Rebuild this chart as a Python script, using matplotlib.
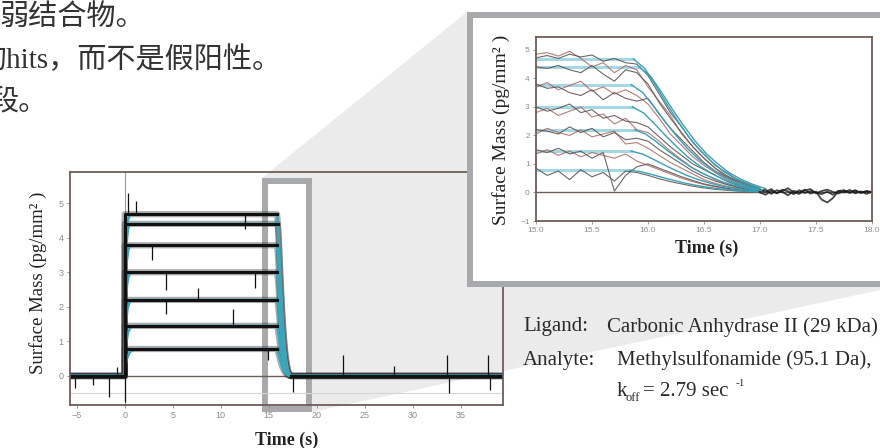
import matplotlib.pyplot as plt
from matplotlib.patches import Polygon, Rectangle
import numpy as np

# ---- data ----
# plateau level of each of the seven traces (pg/mm^2) and when dissociation starts (s)
levels = [4.68, 4.40, 3.78, 3.00, 2.20, 1.45, 0.78]
t_off = [15.87, 15.92, 15.85, 15.86, 15.88, 15.85, 15.84]

# shape of the fitted association / dissociation (fraction of plateau)
rise_dt = [0.0, 0.05, 0.1, 0.2, 0.35, 0.6, 1.0]
rise_frac = [0.0, 0.45, 0.68, 0.88, 0.97, 1.0, 1.0]
rise_scale = [1.0, 1.0, 1.1, 1.2, 1.4, 1.8, 2.6]
decay_dt = [0.0, 0.1, 0.2, 0.3, 0.4, 0.5, 0.6, 0.7, 0.8, 0.9, 1.0, 1.13, 1.4]
decay_frac = [1.0, 0.93, 0.80, 0.66, 0.53, 0.41, 0.31, 0.23, 0.16, 0.11, 0.07, 0.03, 0.0]

# spikes in the full sensorgram: time, from, to
spike_t = [-5.2, -3.3, -1.6, -0.8, 0.0, 0.3, 1.2, 2.8, 4.3, 4.3, 7.6, 11.3,
           12.5, 13.6, 14.9, 17.5, 22.7, 28.0, 33.6, 33.8, 37.8, 38.0]
spike_from = [0, 0, 0, 0, 0, 4.68, 4.68, 3.78, 3.0, 2.2, 2.2, 1.45,
              4.68, 3.0, 0.78, 0, 0, 0, 0, 0, 0, 0]
spike_to = [-0.35, -0.25, -0.6, 0.25, -0.75, 5.3, 5.05, 3.35, 2.5, 1.8, 2.55, 1.95,
            4.25, 2.55, 0.45, -0.45, 0.6, 0.3, 0.6, -0.5, 0.6, -0.4]

main_xticks = [-5, 0, 5, 10, 15, 20, 25, 30, 35]
main_yticks = [0, 1, 2, 3, 4, 5]

# zoomed traces, 15.0 .. 17.0 s every 0.1 s
inset_t = np.round(np.arange(15.0, 17.001, 0.1), 2)
traces_dark = [
    [4.72, 4.80, 4.70, 4.85, 4.75, 4.82, 4.60, 4.70, 4.55, 4.50, 4.10, 3.45, 2.80, 2.30, 1.75, 1.35, 0.95, 0.70, 0.45, 0.30, 0.15],
    [4.40, 4.35, 4.45, 4.30, 4.20, 4.45, 4.15, 3.90, 4.30, 4.20, 3.80, 3.15, 2.60, 2.10, 1.60, 1.20, 0.85, 0.60, 0.40, 0.25, 0.12],
    [3.80, 3.65, 3.70, 3.50, 3.40, 3.60, 3.25, 3.50, 3.30, 3.20, 3.30, 2.75, 2.25, 1.85, 1.45, 1.05, 0.75, 0.55, 0.35, 0.20, 0.08],
    [3.00, 2.85, 2.95, 3.10, 2.80, 2.90, 2.60, 2.70, 2.50, 2.45, 2.30, 1.95, 1.60, 1.30, 1.00, 0.80, 0.60, 0.40, 0.25, 0.15, 0.05],
    [2.20, 2.15, 2.05, 2.30, 2.10, 2.25, 1.95, 2.10, 1.85, 1.90, 1.80, 1.50, 1.25, 1.00, 0.75, 0.55, 0.40, 0.28, 0.18, 0.10, 0.03],
    [1.50, 1.40, 1.55, 1.35, 1.45, 1.20, 1.40, 0.05, 0.60, 0.90, 1.00, 0.85, 0.70, 0.55, 0.42, 0.30, 0.22, 0.15, 0.10, 0.05, 0.02],
    [0.85, 0.60, 0.75, 0.45, 0.80, 0.55, 0.70, 0.40, 0.75, 0.70, 0.60, 0.48, 0.38, 0.30, 0.22, 0.16, 0.11, 0.08, 0.05, 0.03, 0.01],
]
traces_red = [
    [4.85, 4.90, 4.78, 4.95, 4.70, 4.40, 4.55, 4.20, 4.45, 4.30, 3.70, 3.20, 2.70, 2.05, 1.60, 1.20, 0.85, 0.55, 0.40, 0.25, 0.10],
    [3.70, 3.85, 3.60, 3.75, 3.90, 3.55, 3.70, 3.45, 3.60, 3.40, 3.10, 2.60, 2.05, 1.65, 1.25, 0.95, 0.70, 0.45, 0.30, 0.15, 0.05],
    [2.80, 2.95, 2.70, 2.85, 3.00, 2.65, 2.75, 2.40, 2.60, 2.20, 2.10, 1.80, 1.45, 1.15, 0.85, 0.65, 0.45, 0.30, 0.20, 0.10, 0.05],
    [2.05, 2.25, 2.10, 2.00, 2.20, 1.95, 2.05, 2.15, 1.70, 1.75, 1.55, 1.30, 1.05, 0.85, 0.65, 0.45, 0.32, 0.22, 0.15, 0.08, 0.02],
    [1.35, 1.50, 1.30, 1.45, 1.25, 1.40, 1.30, 1.20, 1.35, 1.10, 0.95, 0.80, 0.65, 0.50, 0.38, 0.28, 0.20, 0.13, 0.08, 0.04, 0.02],
]
# baseline after dissociation, 17.0 .. 18.0 s every 0.05 s
tail_t = np.round(np.arange(17.0, 18.001, 0.05), 2)
tails = [
    [0.05, 0.10, -0.05, 0.08, 0.02, -0.10, 0.06, 0.00, 0.10, -0.04, 0.03, -0.25, -0.35, -0.20, 0.05, 0.08, -0.02, 0.06, 0.00, 0.04, 0.02],
    [0.00, -0.08, 0.06, -0.03, 0.10, 0.04, -0.06, 0.08, -0.02, 0.05, 0.00, -0.06, 0.03, -0.08, 0.06, 0.00, 0.09, -0.03, 0.04, -0.05, 0.03],
    [0.08, 0.02, 0.12, -0.02, 0.05, 0.15, 0.00, -0.05, 0.07, 0.12, -0.03, 0.05, 0.10, 0.02, -0.04, 0.06, 0.01, 0.08, -0.02, 0.05, 0.00],
]
inset_xticks = [15.0, 15.5, 16.0, 16.5, 17.0, 17.5, 18.0]
inset_yticks = [-1, 0, 1, 2, 3, 4, 5]

SERIF = 'Liberation Serif'
FRAME = '#6e5c57'
GREY = '#a7a9ac'
TICKC = '#8c8c8c'
INK = '#2b2b2b'


def px_rect(l, t, r, b):
    return [l / 880, 1 - b / 448, (r - l) / 880, (b - t) / 448]


def pixel_axes(z):
    a = fig.add_axes([0, 0, 1, 1], zorder=z)
    a.set_xlim(0, 880)
    a.set_ylim(448, 0)
    a.axis('off')
    a.patch.set_alpha(0)
    return a


def fit_curve(i, with_rise=True):
    L = levels[i]
    t, v = [], []
    if with_rise:
        t += [d * rise_scale[i] for d in rise_dt]
        v += [L * f for f in rise_frac]
    t += [t_off[i] + d for d in decay_dt]
    v += [L * f for f in decay_frac]
    return t, v


def style_axes(a):
    for s in a.spines.values():
        s.set_color(FRAME)
        s.set_linewidth(1.3)
    a.tick_params(length=2.5, width=0.6, color=TICKC, labelcolor=TICKC,
                  labelsize=6.5, pad=2)
    for lab in a.get_xticklabels() + a.get_yticklabels():
        lab.set_family('Liberation Sans')


fig = plt.figure(figsize=(8.8, 4.48), dpi=100)

# background: zoom connector + source box
bg = pixel_axes(0)
bg.add_patch(Polygon([(262, 178), (467, 12), (880, 12), (880, 290), (312, 412), (262, 412)],
                     closed=True, fc='#ebebeb', ec='none'))
bg.add_patch(Rectangle((265, 181), 44, 228, fc='white', ec=GREY, lw=4.3))

# ---- full sensorgram ----
ax = fig.add_axes(px_rect(70, 172, 503, 405), zorder=1)
ax.patch.set_alpha(0)
ax.set_xlim(-5.7, 39.4)
ax.set_ylim(-0.84, 5.9)
ax.axhline(0, color=FRAME, lw=1.0)
ax.axhline(-0.5, color='#d5d5d5', lw=0.8)
ax.axvline(0, color='#9a9a9a', lw=0.8)
x0, x1 = ax.get_xlim()
for i, L in enumerate(levels):
    ft, fv = fit_curve(i, with_rise=False)
    ax.plot([x0, 0, 0] + ft + [x1], [0, 0, L] + fv + [0], color='#333333', lw=4.5,
            alpha=0.4, solid_joinstyle='round')
for i, L in enumerate(levels):
    ft, fv = fit_curve(i)
    ax.plot([x0] + ft + [x1], [0] + fv + [0], color='#3aa6bc', lw=1.8)
for i, L in enumerate(levels):
    ax.plot([x0, 0, 0, t_off[i]], [0, 0, L, L], color='#111111', lw=2.2,
            solid_joinstyle='round')
ax.plot([17.3, x1], [0, 0], color='#111111', lw=2.4)
ax.vlines(spike_t, spike_from, spike_to, color='#111111', lw=0.9)
ax.set_xticks(main_xticks)
ax.set_yticks(main_yticks)
style_axes(ax)

# ---- zoom panel frame (drawn over the big plot) ----
mid = pixel_axes(2)
mid.add_patch(Rectangle((470, 15), 440, 269, fc='white', ec=GREY, lw=4.3, clip_on=False))

# ---- zoomed dissociation ----
ins = fig.add_axes(px_rect(536, 37, 872, 221), zorder=3)
ins.patch.set_alpha(0)
ins.set_xlim(15.0, 18.0)
ins.set_ylim(-1.0, 5.45)
ins.axhline(0, color=FRAME, lw=1.0)
for i, L in enumerate(levels):
    ins.plot([15.0, t_off[i]], [L, L], color='#9ad4e0', lw=2.2, alpha=0.9)
for tr in traces_red:
    ins.plot(inset_t, tr, color='#a8665f', lw=0.8, alpha=0.85)
for tr in traces_dark:
    ins.plot(inset_t, tr, color='#5c5555', lw=0.8, alpha=0.9)
for tr in tails:
    ins.plot(tail_t, tr, color='#1a1a1a', lw=1.3, alpha=0.8)
for i, L in enumerate(levels):
    ft, fv = fit_curve(i, with_rise=False)
    ins.plot(ft[:-1], fv[:-1], color='#3a9fb6', lw=1.0)
ins.set_xticks(inset_xticks)
ins.set_xticklabels(['%.1f' % v for v in inset_xticks])
ins.set_yticks(inset_yticks)
style_axes(ins)
ins.tick_params(labelsize=6)

# ---- text ----
top = pixel_axes(4)
cjk = ['Liberation Serif', 'Noto Sans CJK SC']
top.text(0, 18, '弱结合物。', family=cjk, fontsize=21, color='#333333', va='center')
top.text(-23, 60, '的hits，而不是假阳性。', family=cjk, fontsize=21, color='#333333', va='center')
top.text(-10, 102, '段。', family=cjk, fontsize=21, color='#333333', va='center')

top.text(38, 283, 'Surface Mass (pg/mm² )', family=SERIF, fontsize=13.5, color='#222222',
         rotation=90, ha='center', va='center')
top.text(287, 440, 'Time (s)', family=SERIF, fontsize=13, weight='bold', color='#222222',
         ha='center', va='center')
top.text(501, 130, 'Surface Mass (pg/mm² )', family=SERIF, fontsize=14, color='#222222',
         rotation=90, ha='center', va='center')
top.text(707, 248, 'Time (s)', family=SERIF, fontsize=13, weight='bold', color='#222222',
         ha='center', va='center')

top.text(523, 327, 'Ligand:', family=SERIF, fontsize=15, color=INK, va='center')
top.text(607, 327, 'Carbonic Anhydrase II (29 kDa)', family=SERIF, fontsize=15, color=INK, va='center')
top.text(523, 360, 'Analyte:', family=SERIF, fontsize=15, color=INK, va='center')
top.text(617, 360, 'Methylsulfonamide (95.1 Da),', family=SERIF, fontsize=15, color=INK, va='center')
top.text(617, 392, 'k', family=SERIF, fontsize=15, color=INK, va='center')
top.text(626, 398, 'off', family=SERIF, fontsize=9, color=INK, va='center')
top.text(643, 392, '= 2.79 sec', family=SERIF, fontsize=15, color=INK, va='center')
top.text(736, 383, '-1', family=SERIF, fontsize=8, color=INK, va='center')

fig.savefig('out.png', dpi=100)
